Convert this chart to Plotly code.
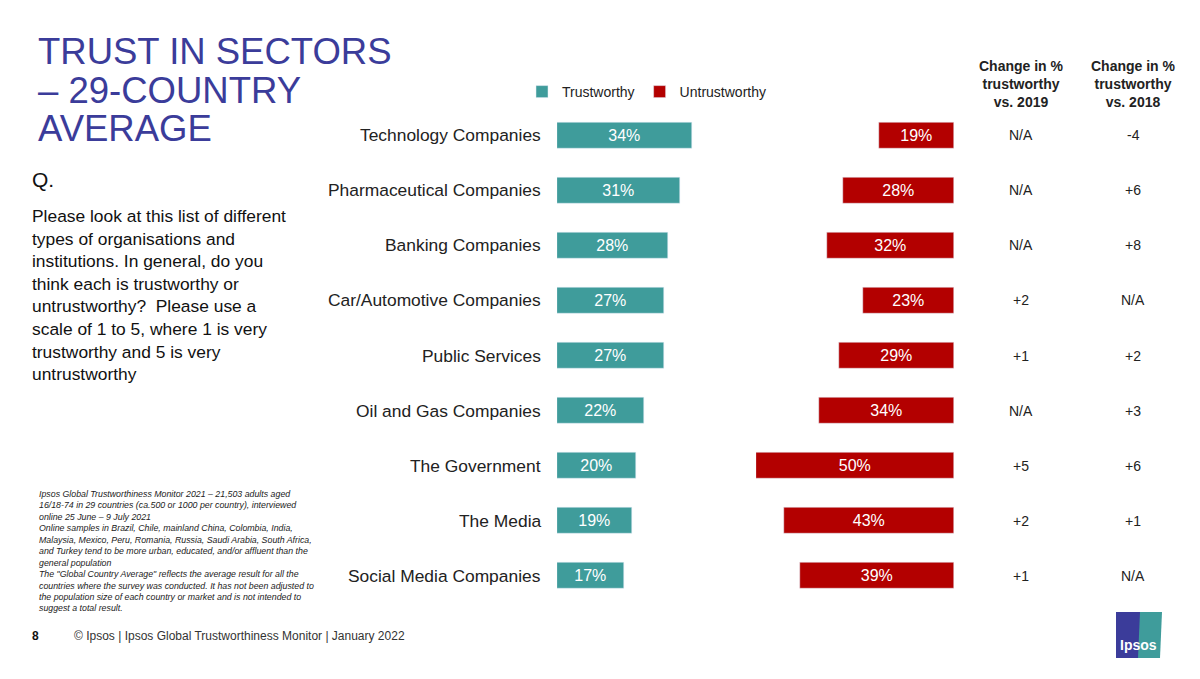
import plotly.graph_objects as go

sectors = ["Technology Companies", "Pharmaceutical Companies", "Banking Companies",
           "Car/Automotive Companies", "Public Services", "Oil and Gas Companies",
           "The Government", "The Media", "Social Media Companies"]
trustworthy = [34, 31, 28, 27, 27, 22, 20, 19, 17]
untrustworthy = [19, 28, 32, 23, 29, 34, 50, 43, 39]
change_2019 = ["N/A", "N/A", "N/A", "+2", "+1", "N/A", "+5", "+2", "+1"]
change_2018 = ["-4", "+6", "+8", "N/A", "+2", "+3", "+6", "+1", "N/A"]
title_lines = ["TRUST IN SECTORS", "– 29-COUNTRY", "AVERAGE"]

TEAL = "#3f9c9b"
RED = "#b30000"
NAVY = "#3b3c9a"
W, H = 1200, 679
OFF = 8  # page body margin


def px(x):
    return (x - OFF) / W


def py(y):
    return 1 - (y - OFF) / H


fig = go.Figure()
fig.add_trace(go.Bar(
    y=sectors, x=trustworthy, orientation="h", name="Trustworthy",
    marker_color=TEAL, width=0.47, xaxis="x", yaxis="y",
    text=[f"{v}%" for v in trustworthy], textposition="inside",
    insidetextanchor="middle", textfont=dict(color="white", size=16),
))
fig.add_trace(go.Bar(
    y=sectors, x=untrustworthy, orientation="h", name="Untrustworthy",
    marker_color=RED, width=0.47, xaxis="x2", yaxis="y",
    text=[f"{v}%" for v in untrustworthy], textposition="inside",
    insidetextanchor="middle", textfont=dict(color="white", size=16),
))

span = 198 / W

ann = []
for i, s in enumerate(sectors):
    ann.append(dict(x=px(557), y=s, yref="y", text=s, xanchor="right", xshift=-14,
                    font=dict(size=17.4, color="#222")))
    ann.append(dict(x=px(1021), y=s, yref="y", text=change_2019[i], xanchor="center",
                    font=dict(size=14, color="#222")))
    ann.append(dict(x=px(1133), y=s, yref="y", text=change_2018[i], xanchor="center",
                    font=dict(size=14, color="#222")))

for line, yc in zip(title_lines, [52, 90, 128]):
    ann.append(dict(x=px(36), y=py(yc), xanchor="left", yanchor="middle", text=line,
                    font=dict(size=36.5, color=NAVY)))

ann += [
    dict(x=px(1021), y=py(84), xanchor="center", yanchor="middle",
         text="<b>Change in %<br>trustworthy<br>vs. 2019</b>", font=dict(size=14, color="#222")),
    dict(x=px(1133), y=py(84), xanchor="center", yanchor="middle",
         text="<b>Change in %<br>trustworthy<br>vs. 2018</b>", font=dict(size=14, color="#222")),
    dict(x=px(30), y=py(166), xanchor="left", yanchor="top", align="left",
         text="Q.", font=dict(size=21, color="#111")),
    dict(x=px(30), y=py(204), xanchor="left", yanchor="top", align="left",
         text="Please look at this list of different<br>types of organisations and<br>"
              "institutions. In general, do you<br>think each is trustworthy or<br>"
              "untrustworthy?  Please use a<br>scale of 1 to 5, where 1 is very<br>"
              "trustworthy and 5 is very<br>untrustworthy",
         font=dict(size=17.4, color="#111")),
    dict(x=px(37), y=py(487), xanchor="left", yanchor="top", align="left",
         text="<i>Ipsos Global Trustworthiness Monitor 2021 – 21,503 adults aged<br>"
              "16/18-74 in 29 countries (ca.500 or 1000 per country), interviewed<br>"
              "online 25 June – 9 July 2021<br>"
              "Online samples in Brazil, Chile, mainland China, Colombia, India,<br>"
              "Malaysia, Mexico, Peru, Romania, Russia, Saudi Arabia, South Africa,<br>"
              "and Turkey tend to be more urban, educated, and/or affluent than the<br>"
              "general population<br>"
              "The \"Global Country Average\" reflects the average result for all the<br>"
              "countries where the survey was conducted. It has not been adjusted to<br>"
              "the population size of each country or market and is not intended to<br>"
              "suggest a total result.</i>",
         font=dict(size=8.8, color="#222")),
    dict(x=px(30), y=py(636), xanchor="left", yanchor="middle", text="<b>8</b>",
         font=dict(size=12, color="#111")),
    dict(x=px(72), y=py(636), xanchor="left", yanchor="middle",
         text="© Ipsos | Ipsos Global Trustworthiness Monitor | January 2022",
         font=dict(size=12, color="#333")),
    dict(x=px(1138), y=py(645), xanchor="center", yanchor="middle", text="<b>Ipsos</b>",
         font=dict(size=14, color="white")),
]
for a in ann:
    a.setdefault("xref", "paper")
    a.setdefault("yref", "paper")
    a["showarrow"] = False

shapes = [
    dict(type="rect", xref="paper", yref="paper", x0=px(1116), x1=px(1160),
         y0=py(658), y1=py(612), fillcolor=NAVY, line_width=0, layer="below"),
    dict(type="path", xref="paper", yref="paper",
         path=f"M {px(1140)} {py(612)} L {px(1162)} {py(612)} L {px(1160)} {py(658)} L {px(1138)} {py(658)} Z",
         fillcolor=TEAL, line_width=0, layer="below"),
]

fig.update_layout(
    width=W, height=H, margin=dict(l=0, r=0, t=0, b=0),
    paper_bgcolor="white", plot_bgcolor="white",
    font=dict(family="Liberation Sans, Arial, sans-serif"),
    showlegend=True,
    legend=dict(orientation="h", x=px(522), y=py(92), yanchor="middle",
                xanchor="left", font=dict(size=14, color="#222"),
                itemwidth=30, tracegroupgap=0),
    xaxis=dict(domain=[px(557), px(557) + span], range=[0, 50], visible=False),
    xaxis2=dict(domain=[px(954) - span, px(954)], range=[50, 0], visible=False),
    yaxis=dict(domain=[py(603.5), py(107.5)], range=[8.5, -0.5],
               type="category", categoryorder="array", categoryarray=sectors,
               visible=False),
    annotations=ann, shapes=shapes, bargap=0,
)

fig.write_html("out.html")
